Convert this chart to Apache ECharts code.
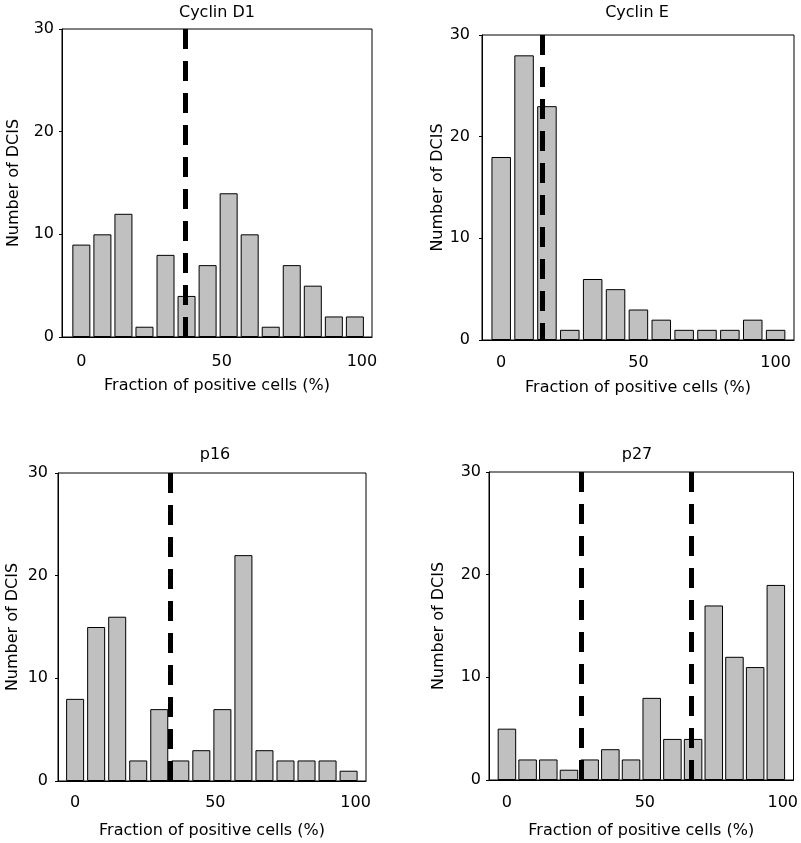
<!DOCTYPE html>
<html>
<head>
<meta charset="utf-8">
<script src="https://cdn.jsdelivr.net/npm/echarts@6/dist/echarts.min.js"></script>
<style>html,body{margin:0;padding:0;background:#fff}#c{width:801px;height:843px}</style>
</head>
<body>
<div id="c"></div>
<script>
// ---- data ----
const titles = ['Cyclin D1', 'Cyclin E', 'p16', 'p27'];
const xTickLabels = [0, 50, 100];
const yTickLabels = [0, 10, 20, 30];
const xName = 'Fraction of positive cells (%)';
const yName = 'Number of DCIS';

const binsD1 = [0, 7.5, 15, 22.5, 30, 37.5, 45, 52.5, 60, 67.5, 75, 82.5, 90, 97.5];
const countsD1 = [9, 10, 12, 1, 8, 4, 7, 14, 10, 1, 7, 5, 2, 2];
const cutD1 = [37];

const binsE = [0, 8.33, 16.67, 25, 33.33, 41.67, 50, 58.33, 66.67, 75, 83.33, 91.67, 100];
const countsE = [18, 28, 23, 1, 6, 5, 3, 2, 1, 1, 1, 2, 1];
const cutE = [15];

const binsP16 = [0, 7.5, 15, 22.5, 30, 37.5, 45, 52.5, 60, 67.5, 75, 82.5, 90, 97.5];
const countsP16 = [8, 15, 16, 2, 7, 2, 3, 7, 22, 3, 2, 2, 2, 1];
const cutP16 = [34];

const binsP27 = [0, 7.5, 15, 22.5, 30, 37.5, 45, 52.5, 60, 67.5, 75, 82.5, 90, 97.5];
const countsP27 = [5, 2, 2, 1, 2, 3, 2, 8, 4, 4, 17, 12, 11, 19];
const cutP27 = [27, 67];

// ---- layout ----
const FONT = 'DejaVu Sans';
const panels = [
  {bins: binsD1, counts: countsD1, cuts: cutD1, grid: {left: 62, top: 29, width: 310, height: 308}, xmin: -6.9, xmax: 103.6, barW: 18, ylm: 8, yng: 40, xlm: 17, xng: 41, tx: 217, ty: 5},
  {bins: binsE, counts: countsE, cuts: cutE, grid: {left: 482, top: 35, width: 312, height: 305}, xmin: -7.0, xmax: 106.7, barW: 19.5, ylm: 12, yng: 36, xlm: 15, xng: 40, tx: 637, ty: 5},
  {bins: binsP16, counts: countsP16, cuts: cutP16, grid: {left: 58, top: 473, width: 308, height: 308}, xmin: -6.1, xmax: 103.7, barW: 18, ylm: 10, yng: 37, xlm: 14, xng: 42, tx: 215, ty: 447},
  {bins: binsP27, counts: countsP27, cuts: cutP27, grid: {left: 489, top: 472, width: 309, height: 308}, xmin: -6.5, xmax: 103.9, barW: 18.5, ylm: 8, yng: 42, xlm: 15, xng: 43, tx: 637, ty: 447}
];

const option = {
  animation: false,
  backgroundColor: '#fff',
  textStyle: {fontFamily: FONT},
  title: [], grid: [], xAxis: [], yAxis: [], series: []
};

panels.forEach((p, i) => {
  option.title.push({
    text: titles[i], left: p.tx, top: p.ty, textAlign: 'center', padding: 0,
    textStyle: {fontFamily: FONT, fontSize: 16, fontWeight: 'normal', color: '#000'}
  });
  option.grid.push(Object.assign({show: true, borderColor: '#000', borderWidth: 1, backgroundColor: 'transparent', containLabel: false}, p.grid));
  option.xAxis.push({
    type: 'value', gridIndex: i, min: p.xmin, max: p.xmax,
    name: xName, nameLocation: 'middle', nameGap: p.xng,
    nameTextStyle: {fontFamily: FONT, fontSize: 16, color: '#000'},
    axisLine: {show: true, onZero: false, lineStyle: {color: '#000', width: 1}},
    axisTick: {show: false},
    splitLine: {show: false},
    axisLabel: {customValues: xTickLabels, margin: p.xlm, fontFamily: FONT, fontSize: 16, color: '#000'}
  });
  option.yAxis.push({
    type: 'value', gridIndex: i, min: yTickLabels[0], max: yTickLabels[yTickLabels.length - 1], interval: 10,
    name: yName, nameLocation: 'middle', nameRotate: 90, nameGap: p.yng,
    nameTextStyle: {fontFamily: FONT, fontSize: 16, color: '#000'},
    axisLine: {show: true, onZero: false, lineStyle: {color: '#000', width: 1}},
    axisTick: {show: true, length: 3, lineStyle: {color: '#000'}},
    splitLine: {show: false},
    axisLabel: {margin: p.ylm, fontFamily: FONT, fontSize: 16, color: '#000'}
  });
  option.series.push({
    type: 'bar', xAxisIndex: i, yAxisIndex: i,
    barWidth: p.barW,
    data: p.bins.map((x, k) => [x, p.counts[k]]),
    itemStyle: {color: '#c0c0c0', borderColor: '#000', borderWidth: 1},
    silent: true,
    markLine: {
      silent: true, symbol: ['none', 'none'], label: {show: false},
      lineStyle: {color: '#000', width: 5, type: [20, 12]},
      data: p.cuts.map(c => [{coord: [c, 30]}, {coord: [c, 0]}])
    }
  });
});

const chart = echarts.init(document.getElementById('c'), null, {renderer: 'canvas'});
chart.setOption(option);
</script>
</body>
</html>
